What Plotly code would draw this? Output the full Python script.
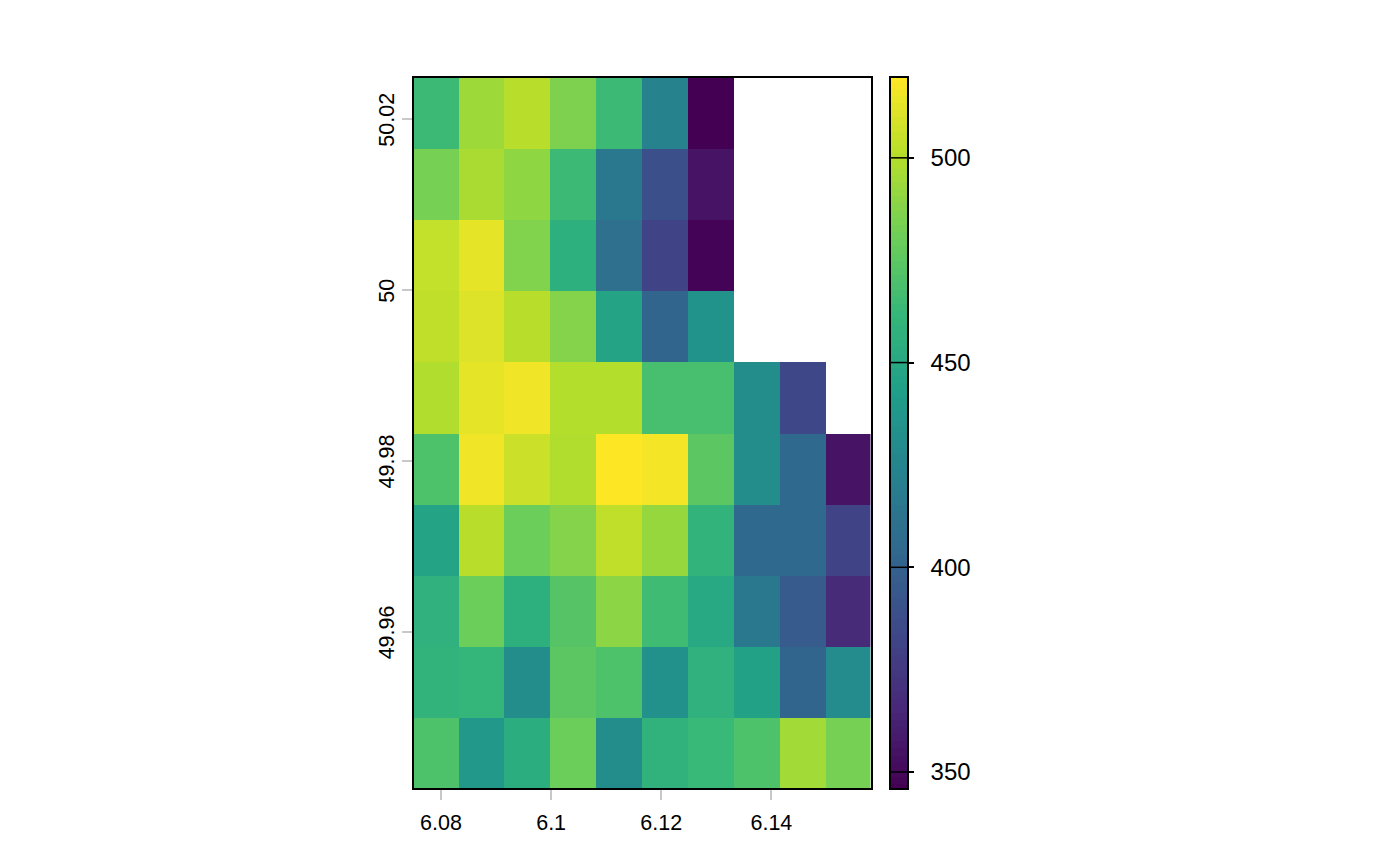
import numpy as np
import plotly.graph_objects as go

# raster cell centres
lon = [6.079, 6.0873, 6.0957, 6.104, 6.1123, 6.1207, 6.129, 6.1373, 6.1457, 6.154]
lat = [50.0207, 50.0124, 50.0041, 49.9957, 49.9874, 49.9791, 49.9707, 49.9624, 49.9541, 49.9457]

# elevation, top row first, None = no data
row1 = [464, 494, 501, 485, 464, 424, 346, None, None, None]
row2 = [483, 497, 490, 464, 416, 389, 355, None, None, None]
row3 = [504, 513, 486, 456, 410, 381, 347, None, None, None]
row4 = [503, 511, 501, 487, 447, 402, 435, None, None, None]
row5 = [499, 513, 516, 500, 500, 468, 468, 431, 384, None]
row6 = [470, 516, 506, 499, 520, 517, 475, 431, 405, 355]
row7 = [447, 501, 480, 487, 503, 492, 459, 405, 405, 381]
row8 = [457, 480, 456, 473, 489, 465, 450, 416, 396, 367]
row9 = [459, 461, 431, 475, 470, 433, 457, 445, 402, 430]
row10 = [470, 438, 454, 480, 431, 458, 463, 470, 495, 483]

x_ticks = [6.08, 6.1, 6.12, 6.14]
x_labels = ["6.08", "6.1", "6.12", "6.14"]
y_ticks = [49.96, 49.98, 50, 50.02]
y_labels = ["49.96", "49.98", "50", "50.02"]
cbar_ticks = [350, 400, 450, 500]

zmin, zmax = 346.1, 519.5
# page body keeps an 8px margin, so the figure is 16px smaller than the window
PAD = 8
W, H = 1400 - 2 * PAD, 866 - 2 * PAD
FONT = "Liberation Sans"


def xdom(left, right):
    return [(left - PAD) / W, (right - PAD) / W]


def ydom(top, bottom):
    return [1 - (bottom - PAD) / H, 1 - (top - PAD) / H]


z = [row1, row2, row3, row4, row5, row6, row7, row8, row9, row10]

fig = go.Figure()

fig.add_trace(go.Heatmap(x=lon, y=lat, z=z, colorscale="Viridis", zmin=zmin, zmax=zmax,
                         showscale=False, xaxis="x", yaxis="y"))

# legend ramp, drawn on its own axes so the ticks can cross the bar
ramp = np.linspace(zmin, zmax, 100)
fig.add_trace(go.Heatmap(x=[0, 1], y=ramp, z=np.column_stack([ramp, ramp]), colorscale="Viridis",
                         zmin=zmin, zmax=zmax, showscale=False, xaxis="x2", yaxis="y2"))

for t in cbar_ticks:
    fig.add_shape(type="line", xref="x2 domain", yref="y2", x0=0, x1=1, y0=t, y1=t,
                  line=dict(color="black", width=1.5))

fig.update_layout(
    width=W, height=H,
    margin=dict(l=0, r=0, t=0, b=0),
    paper_bgcolor="white",
    plot_bgcolor="white",
    showlegend=False,
    font=dict(family=FONT, color="black"),
    xaxis=dict(domain=xdom(414, 870.5), range=[6.0751, 6.158], tickmode="array",
               tickvals=x_ticks, ticktext=x_labels, ticks="outside", ticklen=10, tickwidth=1.5,
               tickcolor="#c8c8c8", tickangle=0, ticklabelstandoff=4, tickfont=dict(size=21.5),
               showgrid=False, zeroline=False, showline=True, mirror=True,
               linecolor="black", linewidth=1.5, anchor="y"),
    yaxis=dict(domain=ydom(78, 788), range=[49.9417, 50.0248], tickmode="array",
               tickvals=y_ticks, ticktext=y_labels, ticks="outside", ticklen=10, tickwidth=1.5,
               tickcolor="#c8c8c8", tickangle=-90, ticklabelstandoff=0, ticklabelshift=4,
               tickfont=dict(size=21.5),
               showgrid=False, zeroline=False, showline=True, mirror=True,
               linecolor="black", linewidth=1.5, anchor="x"),
    xaxis2=dict(domain=xdom(890.5, 907), range=[0, 1], showticklabels=False, ticks="",
                showgrid=False, zeroline=False, showline=True, mirror=True,
                linecolor="black", linewidth=1.5, anchor="y2"),
    yaxis2=dict(domain=ydom(78, 788), range=[zmin, zmax], side="right", tickmode="array",
                tickvals=cbar_ticks, ticks="outside", ticklen=5, tickwidth=1.5, tickcolor="black",
                ticklabelstandoff=12, tickfont=dict(size=24), showgrid=False, zeroline=False,
                showline=True, mirror=True, linecolor="black", linewidth=1.5, anchor="x2"),
)

fig.write_html("out.html")
